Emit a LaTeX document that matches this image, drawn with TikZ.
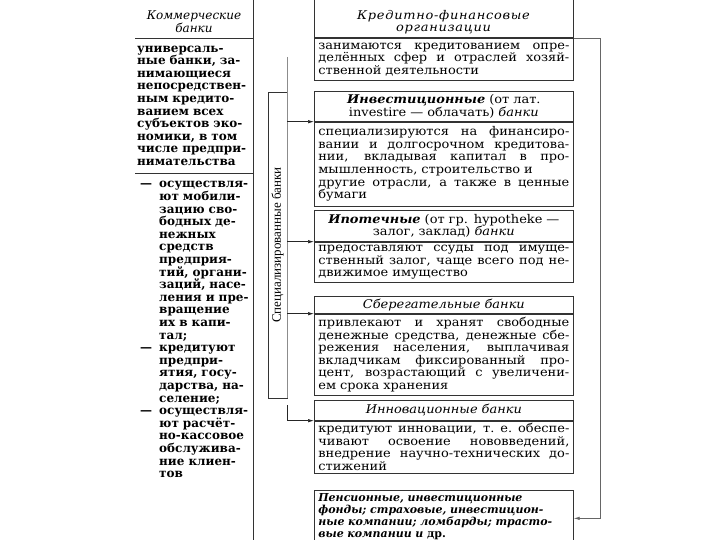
\documentclass[tikz,border=0pt]{standalone}
\usepackage{fontspec}
\setmainfont{DejaVu Serif}
\newfontfamily\widefont[FakeStretch=1.08]{DejaVu Serif}
\newfontfamily\spinefont{Liberation Serif}
\usetikzlibrary{positioning,arrows.meta,calc}

\newcommand\txtsize{\fontsize{12}{12.6}\selectfont}
% one justified line of a box body
\newcommand\jl[1]{\makebox[251pt][s]{\spaceskip=0.3em plus 3em\relax #1}\\}
\newcommand\dsh{\makebox[22pt][l]{\hspace{3pt}—}}
\newcommand\ind{\hspace*{22pt}}

\tikzset{
  frame/.style={draw=black!80,line width=0.7pt},
  headbox/.style={frame,text width=251pt,inner xsep=4pt,inner ysep=1pt,align=center,font=\widefont\txtsize},
  bodybox/.style={frame,text width=251pt,inner xsep=4pt,inner ysep=1pt,align=left,font=\widefont\txtsize},
  leftbox/.style={text width=114pt,inner xsep=2pt,inner ysep=1pt,align=left,font=\txtsize\bfseries},
  feed/.style={-{Latex[length=6pt,width=3.5pt]},black!85,line width=0.7pt},
  spine/.style={black!45,line width=0.8pt}
}

\begin{document}
\begin{tikzpicture}[x=1pt,y=-1pt]
\useasboundingbox (0,0) rectangle (720,540);
\clip (0,0) rectangle (720,540);

% commercial banks
\node[font=\txtsize\itshape,align=center] (commhead) at (194,22) {Коммерческие\\банки};
\node[leftbox,anchor=north west,minimum width=118,minimum height=135] (commbody) at (135,38)
  {универсаль-\\ные банки, за-\\нимающиеся\\непосредствен-\\ным кредито-\\ванием всех\\субъектов эко-\\номики, в том\\числе предпри-\\нимательства};
\node[leftbox,anchor=north west,minimum width=118,inner ysep=8pt] (commlist) at (commbody.south west)
  {\dsh осуществля-\\\ind ют мобили-\\\ind зацию сво-\\\ind бодных де-\\\ind нежных\\\ind средств\\\ind предприя-\\\ind тий, органи-\\\ind заций, насе-\\\ind ления и пре-\\\ind вращение\\\ind их в капи-\\\ind тал;\\
   \dsh кредитуют\\\ind предпри-\\\ind ятия, госу-\\\ind дарства, на-\\\ind селение;\\
   \dsh осуществля-\\\ind ют расчёт-\\\ind но-кассовое\\\ind обслужива-\\\ind ние клиен-\\\ind тов};
\draw[frame] (commbody.north west) -- (commbody.north east);
\draw[frame] (commbody.south west) -- (commbody.south east);
\draw[frame] (253,0) -- (253,540);

% credit organisations
\node[frame,anchor=south west,minimum width=259,minimum height=48,inner sep=0] (credhead) at (314,38) {};
\node[font=\widefont\txtsize\itshape\addfontfeatures{LetterSpace=6},align=center] (credtitle) at (443.5,22) {Кредитно-финансовые\\организации};
\node[bodybox,below=0pt of credhead,minimum height=42] (credbody)
  {\jl{занимаются кредитованием опре-}\jl{делённых сфер и отраслей хозяй-}ственной деятельности};

% specialised banks
\node[headbox,anchor=north west,minimum height=30] (invhead) at (314,91)
  {\textbf{\textit{Инвестиционные}} (от лат.\\investire — облачать) \textit{банки}};
\node[bodybox,below=0pt of invhead,minimum height=84] (invbody)
  {\jl{специализируются на финансиро-}\jl{вании и долгосрочном кредитова-}\jl{нии, вкладывая капитал в про-}мышленность, строительство и\\\jl{другие отрасли, а также в ценные}бумаги};

\node[headbox,anchor=north west,minimum height=31] (morthead) at (314,210)
  {\textbf{\textit{Ипотечные}} (от гр. hypotheke —\\залог, заклад) \textit{банки}};
\node[bodybox,below=0pt of morthead,minimum height=40,inner ysep=3pt] (mortbody)
  {\jl{предоставляют ссуды под имуще-}\jl{ственный залог, чаще всего под не-}движимое имущество};

\node[headbox,anchor=north west,minimum height=17] (savhead) at (314,296)
  {\textit{Сберегательные банки}};
\node[bodybox,below=0pt of savhead,minimum height=81] (savbody)
  {\jl{привлекают и хранят свободные}\jl{денежные средства, денежные сбе-}\jl{режения населения, выплачивая}\jl{вкладчикам фиксированный про-}\jl{цент, возрастающий с увеличени-}ем срока хранения};

\node[headbox,anchor=north west,minimum height=20] (innhead) at (314,400)
  {\textit{Инновационные банки}};
\node[bodybox,below=0pt of innhead,minimum height=52] (innbody)
  {\jl{кредитуют инновации, т.~е. обеспе-}\jl{чивают освоение нововведений,}\jl{внедрение научно-технических до-}стижений};

\node[bodybox,anchor=north west,minimum height=52,font=\fontsize{11}{12}\selectfont\bfseries\itshape] (pension) at (314,490)
  {Пенсионные, инвестиционные\\фонды; страховые, инвестицион-\\ные компании; ломбарды; трасто-\\вые компании и {\upshape др.}};

% vertical label and connectors
\node[frame,rotate=90,minimum width=306,minimum height=19,inner sep=0,font=\spinefont\fontsize{13}{13}\selectfont] (spec) at (277.5,245) {Специализированные банки};
\coordinate (spinetop) at (spec.south |- 0,57);
\draw[spine] (spinetop) -- (spec.south west);
\draw[feed] (spec.south |- invbody.north west) -- (invbody.north west);
\draw[feed] (spec.south |- mortbody.north west) -- (mortbody.north west);
\draw[feed] (spec.south |- savbody.north west) -- (savbody.north west);
\draw[feed] ($(spec.south west)+(0,7)$) |- (innbody.north west);
\draw[feed,black!60] (credbody.north east) -- ++(27,0) |- ($(pension.east)+(0,2)$);
\end{tikzpicture}
\end{document}
